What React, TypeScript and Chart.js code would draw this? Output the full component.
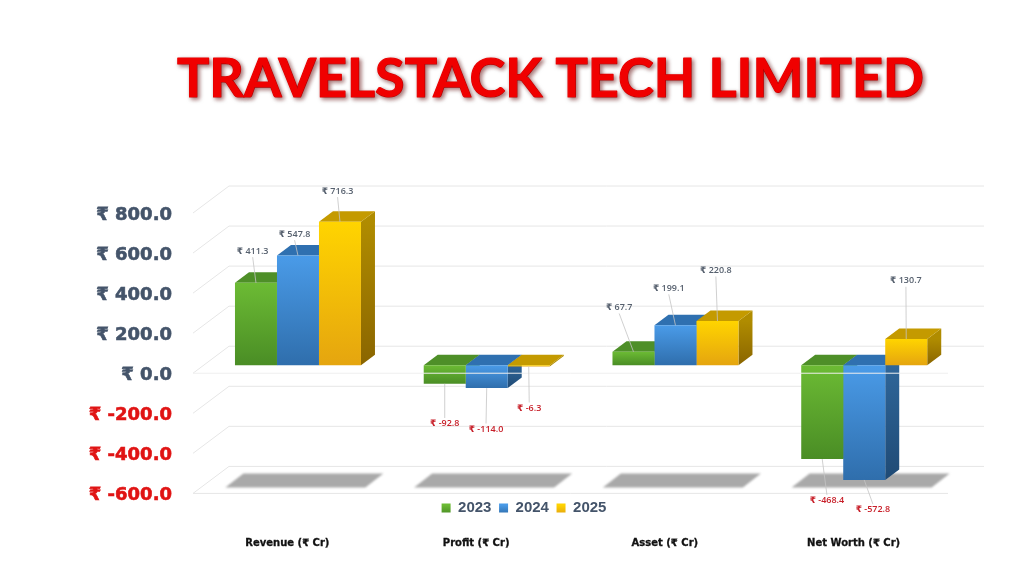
import React, { useEffect, useRef } from "react";
import { Chart, registerables } from "chart.js";

Chart.register(...registerables);

const TITLE = "TRAVELSTACK TECH LIMITED";
const categories = ["Revenue (₹ Cr)", "Profit (₹ Cr)", "Asset (₹ Cr)", "Net Worth (₹ Cr)"];
const years = ["2023", "2024", "2025"];
const values2023 = [411.3, -92.8, 67.7, -468.4];
const values2024 = [547.8, -114.0, 199.1, -572.8];
const values2025 = [716.3, -6.3, 220.8, 130.7];
const seriesValues = [values2023, values2024, values2025];

const FRONT = ["#6CBB34", "#4A9BE8", "#FFD400"];
const FRONT_END = ["#4A8D25", "#2F6EAC", "#E5A50F"];
const TOP = ["#4E8F28", "#2F70B0", "#C49A00"];
const SIDE = ["#4A8226", "#2F6699", "#B08C00"];
const SIDE_END = ["#386A1C", "#1F4A75", "#8A6500"];

// 3D geometry
const WALL_DX = 36, WALL_DY = -27;
const BAR_DX = 10.6, BAR_DY = -8;
const DEPTH_DX = 14, DEPTH_DY = -10.5;
const GRID = "#E6E6E6";
// label displacement from the end of each bar, by series then category
const labelShiftX = [[-3.3, 0, -14.3, 4.7], [-3.4, -0.7, -6.7, 8.7], [-2.4, 0.5, -1.6, -0.3]];
const labelShiftY = [[-31.7, 39.7, -44.2, 41.3], [-21.4, 41, -37, 29.7], [-30.7, 41.5, -50.5, -58.3]];

const poly = (ctx: CanvasRenderingContext2D, pts: number[][], fill: any) => {
  ctx.beginPath();
  pts.forEach((p, i) => (i ? ctx.lineTo(p[0], p[1]) : ctx.moveTo(p[0], p[1])));
  ctx.closePath();
  ctx.fillStyle = fill;
  ctx.fill();
};

const line = (ctx: CanvasRenderingContext2D, x0: number, y0: number, x1: number, y1: number, c: string, w = 1) => {
  ctx.beginPath();
  ctx.moveTo(x0, y0);
  ctx.lineTo(x1, y1);
  ctx.strokeStyle = c;
  ctx.lineWidth = w;
  ctx.stroke();
};

const scene3d = {
  id: "scene3d",
  afterLayout(chart: any) {
    const t = chart.titleBlock;
    t.left += 76.5;
    t.right += 76.5;
    if (!t.__wrapped) {
      t.__wrapped = true;
      const orig = t.draw;
      t.draw = function () {
        const c = chart.ctx;
        c.save();
        c.shadowColor = "rgba(90,0,0,0.55)";
        c.shadowBlur = 4;
        c.shadowOffsetX = 2;
        c.shadowOffsetY = 2;
        // thicken the title's strokes a little, as in the heavier reference face
        const fillText = c.fillText;
        c.fillText = function (s: string, x: number, y: number, m?: number) {
          c.strokeStyle = "#F00000";
          c.lineWidth = 1.2;
          c.lineJoin = "round";
          c.strokeText(s, x, y, m);
          fillText.call(c, s, x, y, m);
        };
        orig.call(t);
        delete c.fillText;
        c.restore();
      };
    }
    const l = chart.legend;
    const h = l.height;
    l.left += 50;
    l.right += 50;
    l.top = 493;
    l.bottom = 493 + h;
  },
  beforeDatasetsDraw(chart: any) {
    const { ctx, chartArea: a, scales } = chart;
    const y = scales.y, x = scales.x;
    ctx.save();
    // walls
    y.ticks.forEach((t: any) => {
      const py = y.getPixelForValue(t.value);
      line(ctx, a.left, py, a.left + WALL_DX, py + WALL_DY, GRID);
      line(ctx, a.left + WALL_DX, py + WALL_DY, a.right + WALL_DX, py + WALL_DY, GRID);
    });
    // floor shadows
    const fy = y.getPixelForValue(y.min);
    ctx.save();
    ctx.filter = "blur(1.2px)";
    categories.forEach((_, i) => {
      const c = x.getPixelForValue(i);
      poly(ctx, [[c - 44, fy - 20], [c + 96, fy - 20], [c + 78, fy - 6], [c - 62, fy - 6]], "#A9A9A9");
    });
    ctx.restore();
    // bar tops and sides, behind all the fronts
    ctx.translate(BAR_DX, BAR_DY);
    categories.forEach((_, i) => {
      seriesValues.forEach((__, s) => {
        const el = chart.getDatasetMeta(s).data[i];
        const L = el.x - el.width / 2, R = el.x + el.width / 2;
        const yT = Math.min(el.y, el.base), yB = Math.max(el.y, el.base);
        const g = ctx.createLinearGradient(0, yT, 0, yB);
        g.addColorStop(0, SIDE[s]);
        g.addColorStop(1, SIDE_END[s]);
        poly(ctx, [[R, yT], [R + DEPTH_DX, yT + DEPTH_DY], [R + DEPTH_DX, yB + DEPTH_DY], [R, yB]], g);
        poly(ctx, [[L, yT], [R, yT], [R + DEPTH_DX, yT + DEPTH_DY], [L + DEPTH_DX, yT + DEPTH_DY]], TOP[s]);
      });
    });
    // left on: fronts are drawn inside this translation, undone after datasets
  },
  afterDatasetsDraw(chart: any) {
    const { ctx, chartArea: a, scales } = chart;
    ctx.restore();
    const y = scales.y;
    // front edge lines of the zero plane and floor, over the bars
    line(ctx, a.left, y.getPixelForValue(0), a.right, y.getPixelForValue(0), "#EFEFEF");
    line(ctx, a.left, y.getPixelForValue(y.min), a.right, y.getPixelForValue(y.min), "#E6E6E6");
    // data labels with leader lines
    ctx.save();
    ctx.font = "600 9px 'Open Sans', 'DejaVu Sans'";
    ctx.textAlign = "center";
    ctx.textBaseline = "middle";
    seriesValues.forEach((vals, s) => {
      vals.forEach((v, i) => {
        const el = chart.getDatasetMeta(s).data[i];
        const ax = el.x + BAR_DX, ay = el.y + BAR_DY;
        const lx = ax + labelShiftX[s][i], ly = ay + labelShiftY[s][i];
        const neg = v < 0;
        line(ctx, ax, ay, lx, neg ? ly - 5.5 : ly + 6, "#C4C4C4", 0.8);
        ctx.fillStyle = neg ? "#C8202A" : "#56606E";
        ctx.fillText(`₹ ${v.toFixed(1)}`, lx, ly);
      });
    });
    ctx.restore();
  },
};

export default function App() {
  const ref = useRef<HTMLCanvasElement | null>(null);
  useEffect(() => {
    const canvas = ref.current!;
    const fill = (s: number) => (c: any) => {
      const chart = c.chart;
      if (c.parsed === undefined || !chart.scales.y) return FRONT[s];
      const y = chart.scales.y;
      const p0 = y.getPixelForValue(c.parsed.y), p1 = y.getPixelForValue(0);
      const g = chart.ctx.createLinearGradient(0, Math.min(p0, p1), 0, Math.max(p0, p1));
      g.addColorStop(0, FRONT[s]);
      g.addColorStop(1, FRONT_END[s]);
      return g;
    };
    const tickColor = (c: any) => (c.tick.value < 0 ? "#E01414" : "#44546A");
    const chart = new Chart(canvas, {
      type: "bar",
      data: {
        labels: categories,
        datasets: years.map((label, s) => ({
          label,
          data: seriesValues[s],
          backgroundColor: fill(s),
          borderWidth: 0,
          categoryPercentage: 0.6675,
          barPercentage: 1,
          clip: false,
        })),
      },
      options: {
        animation: false,
        responsive: false,
        devicePixelRatio: 1,
        layout: { padding: { left: 0, right: 76, top: 0, bottom: -10 } },
        plugins: {
          tooltip: { enabled: false },
          title: {
            display: true,
            text: TITLE,
            color: "#F00000",
            font: { family: "Lato", size: 54, weight: "bold", lineHeight: 1 },
            padding: { top: 53, bottom: 106 },
          },
          legend: {
            position: "bottom",
            labels: {
              boxWidth: 9,
              boxHeight: 9,
              padding: 7.6,
              color: "#44546A",
              font: { family: "'Liberation Sans'", size: 15, weight: "bold", lineHeight: 1.2 },
              generateLabels: (ch: any) =>
                years.map((t, s) => {
                  const g = ch.ctx.createLinearGradient(0, 505, 0, 514);
                  g.addColorStop(0, FRONT[s]);
                  g.addColorStop(1, FRONT_END[s]);
                  return { text: t, fillStyle: g, strokeStyle: g, lineWidth: 0, datasetIndex: s, hidden: false, fontColor: "#44546A" };
                }),
            },
          },
        },
        scales: {
          x: {
            grid: { display: false, drawTicks: false },
            border: { display: false },
            afterFit: (s: any) => { s.height = 60; },
            ticks: {
              padding: 44,
              autoSkip: false,
              maxRotation: 0,
              color: "#111111",
              textStrokeColor: "#111111",
              textStrokeWidth: 0.3,
              font: { family: "'DejaVu Sans'", size: 10, weight: "bold" },
            },
          },
          y: {
            min: -600,
            max: 800,
            grid: { display: false, drawTicks: false },
            border: { display: false },
            afterFit: (s: any) => { s.width = 193; },
            ticks: {
              stepSize: 200,
              padding: 21,
              labelOffset: 2,
              color: tickColor,
              textStrokeColor: tickColor,
              textStrokeWidth: 0.6,
              font: { family: "'DejaVu Sans'", size: 18, weight: "bold" },
              callback: (v: any) => `₹ ${Number(v).toFixed(1)}`,
            },
          },
        },
      },
      plugins: [scene3d],
    } as any);
    return () => chart.destroy();
  }, []);
  return (
    <div style={{ position: "absolute", left: 0, top: 0, width: 1024, height: 576, background: "#fff" }}>
      <canvas ref={ref} width={1024} height={576} style={{ display: "block", width: 1024, height: 576 }} />
    </div>
  );
}
